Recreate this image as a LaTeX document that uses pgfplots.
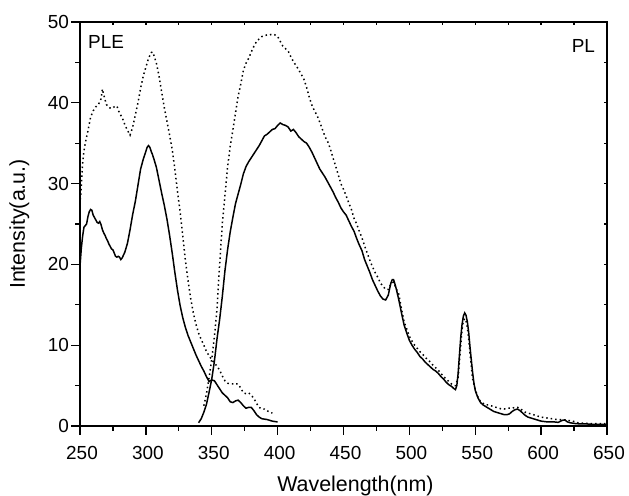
\documentclass[border=0pt]{standalone}
\usepackage{fontspec}
\setmainfont{Liberation Sans}
\usepackage{pgfplots}
\pgfplotsset{compat=1.18}

% PLE spectra (excitation)
\pgfplotstableread{
x y
250 19.8
251 22.0
252 23.5
253 24.6
254 24.8
255 25.0
256 25.9
257 26.5
258 26.8
259 26.7
260 26.1
261 25.8
262 25.5
263 25.2
264 25.1
265 25.3
266 24.9
267 24.3
268 23.9
269 23.6
270 23.2
271 22.9
272 22.5
273 22.2
274 21.9
275 21.8
276 21.4
277 21.0
278 20.9
279 21.0
280 20.9
281 20.6
282 20.8
284 21.5
286 22.6
288 24.3
290 26.2
292 27.8
294 29.8
296 31.8
298 33.0
300 34.0
301 34.5
302 34.7
303 34.5
304 34.0
305 33.6
306 33.1
308 32.0
310 30.4
312 28.8
314 27.3
316 25.6
318 23.6
320 21.4
322 19.0
324 16.8
326 14.9
328 13.4
330 12.2
332 11.2
334 10.4
336 9.6
338 8.8
340 8.1
342 7.4
344 6.8
346 6.1
348 5.5
350 5.7
352 5.6
354 5.1
356 4.6
358 4.1
360 3.8
362 3.5
364 3.0
366 2.9
368 3.1
370 3.2
372 2.9
374 2.5
376 2.2
378 2.3
380 2.3
382 1.9
384 1.4
386 1.1
388 0.9
392 0.8
396 0.6
400 0.5
}\plesolid

\pgfplotstableread{
x y
250 27.5
251 29.5
252 32.5
253 34.0
254 35.0
256 36.5
258 38.2
260 39.0
262 39.5
264 39.8
266 40.5
267 41.7
268 41.0
270 39.8
272 39.4
274 39.3
276 39.5
278 39.6
280 38.7
282 38.2
284 37.3
286 36.6
288 36.0
290 37.0
292 38.5
294 40.0
296 41.8
298 43.3
300 44.4
302 45.5
304 46.2
305 46.3
306 45.9
308 44.9
310 43.3
312 41.3
314 39.4
316 37.7
318 36.0
320 34.2
322 31.8
324 29.0
326 26.5
328 23.5
330 20.5
332 18.0
334 15.8
336 14.0
338 12.6
340 11.5
342 10.7
344 10.0
346 9.2
348 8.7
350 8.2
352 7.8
354 7.4
356 6.9
358 6.2
360 5.6
362 5.3
364 5.2
366 5.2
368 5.2
370 5.2
372 4.7
374 4.1
376 4.0
378 4.1
380 3.8
382 3.4
384 2.8
386 2.3
388 2.1
390 2.1
392 1.9
394 1.7
396 1.6
}\pledot

% PL spectra (emission)
\pgfplotstableread{
x y
340 0.4
342 0.9
344 1.7
346 2.7
348 4.2
350 5.8
352 8.0
354 10.8
356 13.2
358 16.0
360 19.2
362 21.8
364 24.0
366 25.8
368 27.5
370 28.7
372 29.9
374 31.2
376 32.1
378 32.7
380 33.2
382 33.7
384 34.2
386 34.7
388 35.3
390 35.9
392 36.1
394 36.4
396 36.7
398 36.8
400 37.2
402 37.5
404 37.3
406 37.2
408 37.0
410 36.5
412 36.7
414 36.3
416 35.8
418 35.5
420 35.2
422 35.0
424 34.5
426 33.9
428 33.2
430 32.5
432 31.8
434 31.3
436 30.8
438 30.2
440 29.6
442 29.0
444 28.3
446 27.7
448 27.0
450 26.5
452 26.1
454 25.4
456 24.7
458 24.1
460 23.2
462 22.4
464 21.7
466 20.6
468 19.8
470 19.0
472 18.1
474 17.4
476 16.7
478 16.1
480 15.7
482 15.6
484 16.2
485 17.0
486 17.7
487 18.1
488 18.1
489 17.6
490 17.0
492 15.6
494 14.0
496 12.5
498 11.5
500 10.6
502 10.0
504 9.5
506 9.1
508 8.6
510 8.3
512 7.9
514 7.6
516 7.3
518 7.0
520 6.8
522 6.5
524 6.1
526 5.8
528 5.4
530 5.1
532 4.9
534 4.6
535 4.5
536 5.0
537 6.5
538 8.8
539 11.0
540 12.6
541 13.6
542 14.0
543 13.7
544 12.9
545 11.6
546 9.8
547 8.2
548 6.6
549 5.3
550 4.4
552 3.5
554 2.9
556 2.6
558 2.4
560 2.2
562 2.0
564 1.8
566 1.7
568 1.6
570 1.5
572 1.4
574 1.4
576 1.5
578 1.8
580 2.0
582 2.1
584 1.9
586 1.6
588 1.3
590 1.1
592 1.0
594 0.9
596 0.8
598 0.7
600 0.6
605 0.5
610 0.5
613 0.45
616 0.7
618 0.75
620 0.5
622 0.4
626 0.3
630 0.25
635 0.25
640 0.2
645 0.2
650 0.2
}\plsolid

\pgfplotstableread{
x y
344 2.5
346 4.0
348 6.0
350 8.3
352 11.0
354 14.5
356 20.0
358 25.0
360 28.5
362 32.0
364 34.6
366 36.6
368 38.7
370 40.8
372 42.3
374 44.0
376 44.9
378 45.5
380 46.3
382 47.0
384 47.6
386 47.9
388 48.2
390 48.3
392 48.4
394 48.4
396 48.5
398 48.4
400 48.2
402 47.6
404 47.0
406 46.7
408 46.4
410 45.7
412 45.1
414 44.6
416 44.1
418 43.5
420 42.9
422 41.9
424 40.7
426 39.7
428 39.0
430 38.4
432 37.6
434 36.7
436 35.8
438 35.2
440 34.3
442 33.2
444 32.2
446 31.1
448 30.0
450 29.3
452 28.5
454 27.6
456 26.8
458 25.7
460 25.0
462 24.1
464 23.3
466 22.3
468 21.4
470 20.5
472 19.7
474 19.0
476 18.4
478 17.7
480 17.3
482 16.9
484 16.9
486 17.6
488 17.8
490 17.0
492 16.3
494 14.5
496 12.9
498 12.0
500 11.1
502 10.5
504 10.0
506 9.6
508 9.2
510 8.9
512 8.5
514 8.2
516 7.9
518 7.5
520 7.2
522 6.9
524 6.5
526 6.1
528 5.8
530 5.5
532 5.2
534 5.0
535 5.0
537 6.0
538 8.0
539 10.0
540 12.0
541 13.0
542 13.3
543 13.0
544 12.2
545 10.8
546 9.0
547 7.4
548 5.8
550 4.5
552 3.6
554 3.0
556 2.8
558 2.6
560 2.6
562 2.5
564 2.4
566 2.3
568 2.2
570 2.1
572 2.1
574 2.2
576 2.2
578 2.2
580 2.3
582 2.3
584 2.2
586 1.9
588 1.7
590 1.6
592 1.5
594 1.4
596 1.3
598 1.2
600 1.1
604 1.0
608 0.9
612 0.8
616 0.8
620 0.7
624 0.6
628 0.4
632 0.35
636 0.3
640 0.3
645 0.3
650 0.3
}\pldot

\newcommand\tickfont{\fontsize{19}{22}\selectfont}
\newcommand\lblfont{\fontsize{21.5}{25}\selectfont}

\begin{document}
\begin{tikzpicture}
\pgfplotsset{
  boxsize/.style={
    scale only axis, width=527bp, height=404bp,
    xmin=250, xmax=650, ymin=0, ymax=50,
    axis line style={line width=1.3pt, black, -},
    every tick/.style={line width=1.3pt, black},
  },
}
% data, numbers, titles and the outward ticks on bottom and left
\begin{axis}[
  boxsize,
  xtick distance=50, ytick distance=10,
  major tick length=0pt,
  /pgf/number format/assume math mode=true,
  tick label style={font=\tickfont},
  xticklabel style={anchor=north, inner ysep=20bp, xshift=2bp},
  yticklabel style={anchor=east, inner xsep=11pt},
  label style={font=\lblfont},
  xlabel={Wavelength(nm)}, ylabel={Intensity(a.u.)},
  xlabel style={at={(axis description cs:0.5,0)}, anchor=center, yshift=-60pt, xshift=12pt},
  ylabel style={at={(axis description cs:0,0.5)}, anchor=center, yshift=61pt},
  clip=false,
]
\addplot[black, line width=1.5pt] table[x=x, y=y] {\plesolid};
\addplot[black, line width=1.5pt, dash pattern=on 1.5pt off 3pt] table[x=x, y=y] {\pledot};
\addplot[black, line width=1.5pt] table[x=x, y=y] {\plsolid};
\addplot[black, line width=1.5pt, dash pattern=on 1.5pt off 3pt] table[x=x, y=y] {\pldot};
\node[anchor=west, font=\tickfont] at (axis cs:253.5,47.5) {PLE};
\node[anchor=east, font=\tickfont] at (axis cs:643.5,47.0) {PL};
\pgfplotsinvokeforeach{250,300,...,650}{\draw[line width=1.3pt] (axis cs:#1,0) -- ([yshift=-9pt]axis cs:#1,0);}
\pgfplotsinvokeforeach{275,325,...,625}{\draw[line width=1.3pt] (axis cs:#1,0) -- ([yshift=-5pt]axis cs:#1,0);}
\pgfplotsinvokeforeach{0,10,...,50}{\draw[line width=1.3pt] (axis cs:250,#1) -- ([xshift=-9pt]axis cs:250,#1);}
\pgfplotsinvokeforeach{5,15,...,45}{\draw[line width=1.3pt] (axis cs:250,#1) -- ([xshift=-5pt]axis cs:250,#1);}
\end{axis}
% top and right, short ticks pointing in
\begin{axis}[
  boxsize,
  xticklabels={}, yticklabels={},
  axis x line*=top, axis y line*=right,
  xtick distance=25, ytick distance=5,
  tick align=inside,
  major tick length=3.5bp,
]
\end{axis}
\pgfresetboundingbox
\useasboundingbox ([shift={(-80bp,-70bp)}]current axis.south west) rectangle ([shift={(22bp,22bp)}]current axis.north east);
\end{tikzpicture}
\end{document}
